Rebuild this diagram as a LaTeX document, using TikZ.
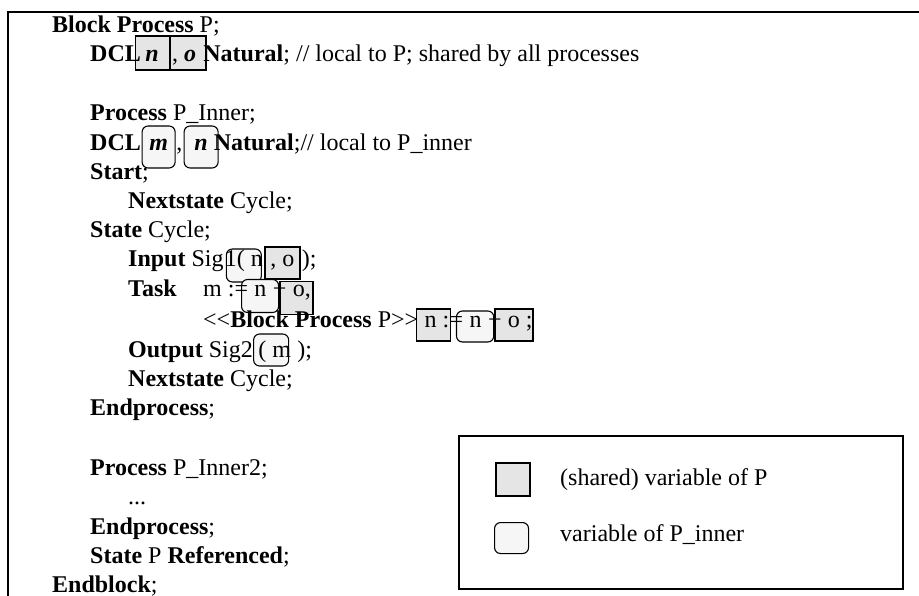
\documentclass[tikz,border=0pt]{standalone}
\usepackage{fontspec}
\setmainfont{Liberation Serif}
\usetikzlibrary{calc,fit}
\pgfdeclarelayer{background}
\pgfsetlayers{background,main}
\newcommand\behind[1]{\begin{pgfonlayer}{background}#1\end{pgfonlayer}}
\definecolor{sharedgray}{gray}{0.90}
\definecolor{innergray}{gray}{0.965}
\tikzset{
  code/.style={font=\fontsize{24}{29}\selectfont, inner sep=0pt, anchor=base west},
  sharedvar/.style={draw=black, line width=1.8pt, fill=sharedgray, rectangle, inner sep=0pt},
  innervar/.style={draw=black, line width=1.1pt, fill=innergray, rectangle, rounded corners=6pt, inner sep=0pt},
  frame/.style={draw=black, line width=1.7pt},
  legendframe/.style={draw=black, line width=1.5pt, rectangle, inner sep=0pt},
}
\begin{document}
\begin{tikzpicture}[x=1pt, y=-1pt]
\useasboundingbox (0,0) rectangle (919,596);

% outer frame, open to the right and to the bottom
\coordinate (fbot) at (8,596);
\coordinate (ftl) at (8,12);
\coordinate (fright) at (919,12);
\draw[frame] (fbot) -- (ftl) -- (fright);

% --- block header
\node[code] (l0) at (52,32.5) {\textbf{Block Process} P;};

\node[code] (l1a) at (90,62) {\textbf{DCL}};
\node[code] (l1n) at ($(l1a.base east)+(4,0)$) {\textbf{\textit{n}}};
\node[code] (l1c) at ($(l1n.base east)+(13,0)$) {,\ \textbf{\textit{o}}};
\node[code] (l1b) at ($(l1c.base east)+(7,0)$) {\textbf{Natural}; // local to P; shared by all processes};
\behind{
  \node[sharedvar, fit={($(l1a.base east)+(-5.5,-26)$) ($(l1c.base west)+(-2,8)$)}] (l1sn) {};
  \node[sharedvar, fit={($(l1c.base west)+(-2,-26)$) ($(l1c.base east)+(10,8)$)}] (l1so) {};
}

% --- process P_Inner
\node[code] (l3) at (90,120.5) {\textbf{Process} P\_Inner;};

\node[code] (l4a) at (90,151) {\textbf{DCL}};
\behind{
  \node[code, innervar, minimum width=33pt, text height=25pt, text depth=17pt] (l4m) at ($(l4a.base east)+(0.5,0)$) {\textbf{\textit{m}}};
}
\node[code] (l4c) at ($(l4m.base east)+(0.5,0)$) {,};
\behind{
  \node[code, innervar, minimum width=34pt, text height=25pt, text depth=17pt] (l4n) at ($(l4c.base east)+(1,0)$) {\textbf{\textit{n}}\hspace{5pt}};
}
\node[code] (l4b) at ($(l4n.base east)+(-5,0)$) {\textbf{Natural};// local to P\_inner};

\node[code] (l5) at (90,179.5) {\textbf{Start};};
\node[code] (l6) at (128,208.6) {\textbf{Nextstate} Cycle;};
\node[code] (l7) at (90,238) {\textbf{State} Cycle;};

% Input line
\node[code] (l8a) at (128,267) {\textbf{Input} Sig};
\behind{
  \node[code, innervar, inner xsep=-1.5pt, text height=18pt, text depth=15pt] (l8i) at ($(l8a.base east)+(2,0)$) {1(\ n};
  \node[code, sharedvar, minimum width=35pt, text height=20pt, text depth=12pt] (l8s) at ($(l8i.base east)+(2,0)$) {,\ o};
}
\node[code] (l8b) at ($(l8s.base east)+(1,0)$) {);};

% Task line
\node[code] (l9a) at (128,296.5) {\textbf{Task}};
\node[code] (l9b) at (203,296.5) {m :=};
\node[code] (l9c) at (l9b.base east) {\ n};
\node[code] (l9d) at (l9c.base east) {\ +};
\node[code] (l9e) at (l9d.base east) {\ o,};
\behind{
  \node[innervar, fit={($(l9b.base east)+(-6.7,-17)$) ($(l9d.base east)+(-8,16)$)}] (l9i) {};
  \node[sharedvar, fit={($(l9d.base east)+(-6.5,-15)$) ($(l9e.base east)+(2,18)$)}] (l9s) {};
}

% assignment as seen from the block
\node[code] (l10a) at (203,327) {\textless\kern0pt\textless\textbf{Block Process} P\textgreater\kern0pt\textgreater};
\node[code] (l10b) at (l10a.base east) {\ n :};
\node[code] (l10c) at (l10b.base east) {=};
\node[code] (l10d) at (l10c.base east) {\ n};
\node[code] (l10e) at (l10d.base east) {\ +};
\node[code] (l10f) at (l10e.base east) {\ o ;};
\behind{
  \node[sharedvar, fit={($(l10a.base east)+(-2,-18)$) ($(l10b.base east)+(1,14)$)}] (l10s1) {};
  \node[innervar, fit={($(l10c.base)+(0,-16)$) ($(l10e.base east)+(-8,15)$)}] (l10i) {};
  \node[sharedvar, fit={($(l10e.base east)+(-6.5,-18)$) ($(l10f.base east)+(0,14)$)}] (l10s2) {};
}

% Output line
\node[code] (l11a) at (128,357) {\textbf{Output} Sig2};
\node[code] (l11b) at ($(l11a.base east)+(5,0)$) {(\ m};
\node[code] (l11c) at (l11b.base east) {\ );};
\behind{
  \node[innervar, fit={($(l11a.base east)+(0.5,-23)$) ($(l11b.base east)+(-2.5,9)$)}] (l11i) {};
}

\node[code] (l12) at (128,386.5) {\textbf{Nextstate} Cycle;};
\node[code] (l13) at (90,415.5) {\textbf{Endprocess};};

% --- process P_Inner2
\node[code] (l15) at (90,475) {\textbf{Process} P\_Inner2;};
\node[code] (l16) at (128,504.6) {...};
\node[code] (l17) at (90,534) {\textbf{Endprocess};};
\node[code] (l18) at (90,563.5) {\textbf{State} P \textbf{Referenced};};
\node[code] (l19) at (52,592) {\textbf{Endblock};};

% --- legend
\node[legendframe, minimum width=444pt, minimum height=153pt, anchor=north west] (legend) at (458,435) {};
\node[sharedvar, minimum width=34pt, minimum height=33pt, anchor=north west] (keyS) at (495,462) {};
\node[innervar, minimum width=34pt, minimum height=31pt, anchor=north west] (keyI) at (494,522) {};
\node[code] (keySt) at (560,485) {(shared) variable of P};
\node[code] (keyIt) at (560,541) {variable of P\_inner};
\end{tikzpicture}
\end{document}
